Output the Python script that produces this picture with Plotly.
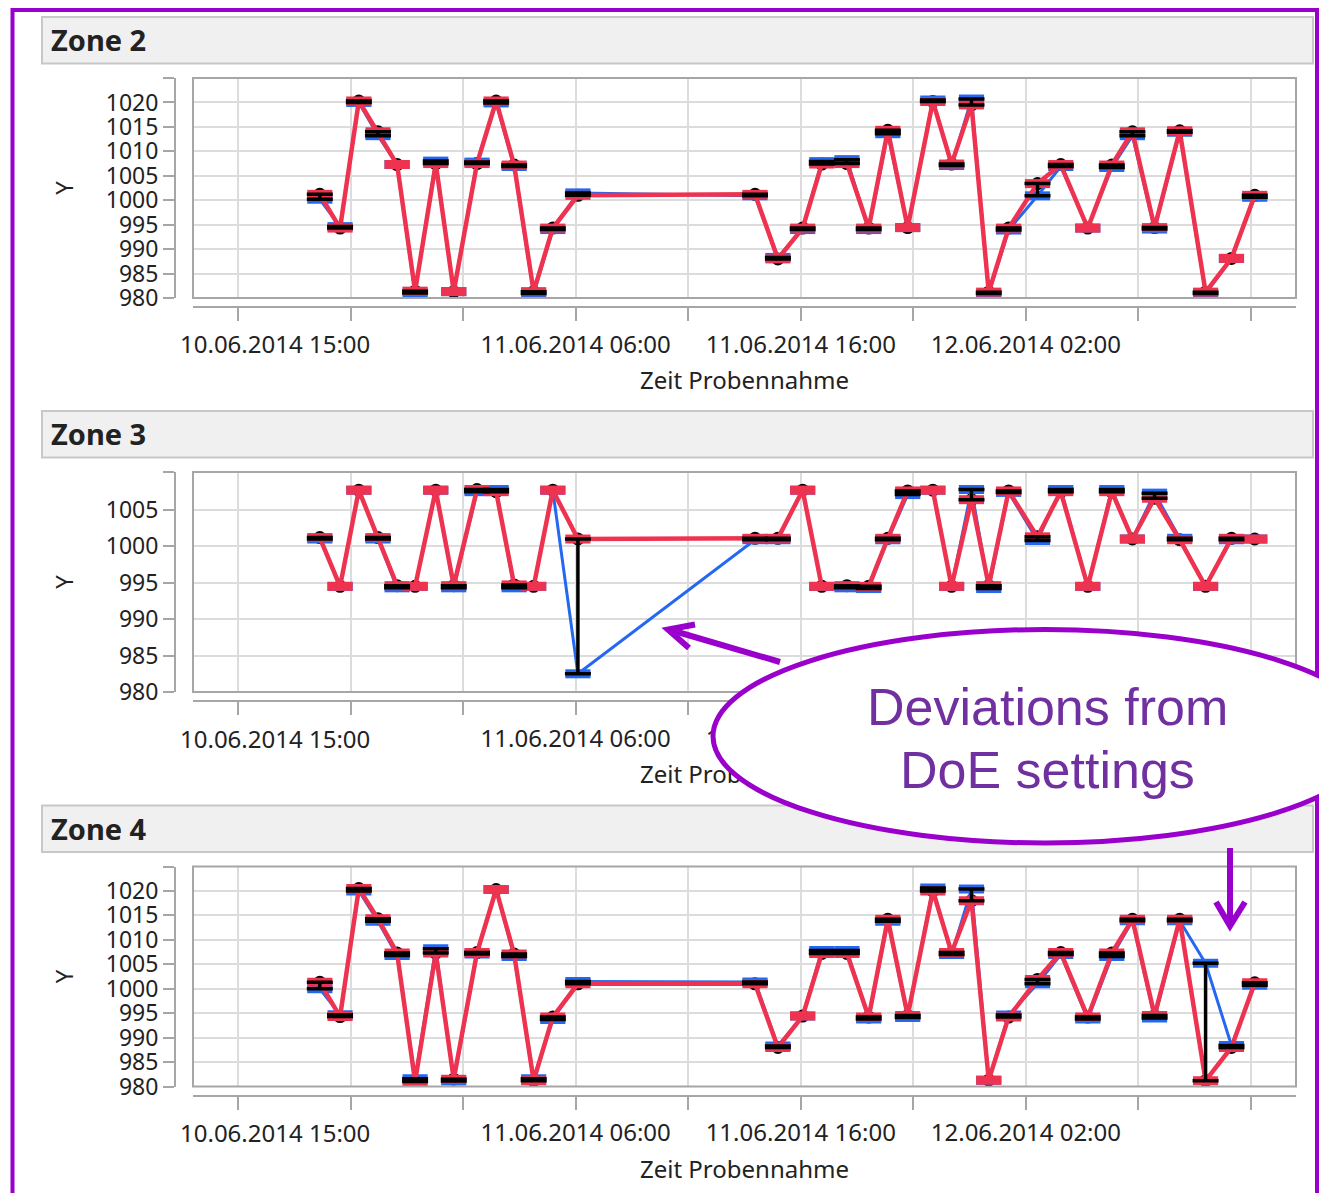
import plotly.graph_objects as go

# ---------------- data ----------------
times = [
    "2014-06-10 18:38", "2014-06-10 19:32", "2014-06-10 20:22", "2014-06-10 21:13",
    "2014-06-10 22:04", "2014-06-10 22:52", "2014-06-10 23:47", "2014-06-11 00:35",
    "2014-06-11 01:37", "2014-06-11 02:28", "2014-06-11 03:16", "2014-06-11 04:08",
    "2014-06-11 04:59", "2014-06-11 06:06", "2014-06-11 13:58", "2014-06-11 14:59",
    "2014-06-11 16:05", "2014-06-11 16:56", "2014-06-11 18:03", "2014-06-11 19:01",
    "2014-06-11 19:52", "2014-06-11 20:45", "2014-06-11 21:52", "2014-06-11 22:42",
    "2014-06-11 23:35", "2014-06-12 00:21", "2014-06-12 01:14", "2014-06-12 02:31",
    "2014-06-12 03:33", "2014-06-12 04:45", "2014-06-12 05:49", "2014-06-12 06:44",
    "2014-06-12 07:43", "2014-06-12 08:50", "2014-06-12 09:59", "2014-06-12 11:08",
    "2014-06-12 12:10",
]

# DoE settings (blue) and actual settings (red) per zone
doe_zone2 = [1000.2, 994.6, 1020.0, 1013.2, 1007.3, 981.0, 1008.0, 981.3, 1007.8, 1019.9,
             1006.9, 980.9, 994.0, 1001.5, 1000.9, 988.3, 994.0, 1007.9, 1008.3, 994.0,
             1013.6, 994.4, 1020.5, 1007.1, 1020.7, 980.9, 993.9, 1000.9, 1006.9, 994.3,
             1006.7, 1013.2, 994.1, 1013.9, 980.9, 988.1, 1000.6]
act_zone2 = [1001.2, 994.3, 1020.3, 1014.0, 1007.3, 981.4, 1007.5, 981.3, 1007.5, 1020.3,
             1007.2, 981.3, 994.3, 1001.0, 1001.2, 988.0, 994.3, 1007.4, 1007.5, 994.3,
             1014.3, 994.4, 1020.2, 1007.4, 1019.5, 981.2, 994.3, 1003.4, 1007.3, 994.3,
             1007.2, 1014.0, 994.4, 1014.2, 981.2, 988.1, 1001.0]

doe_zone3 = [1001.0, 994.5, 1007.7, 1001.0, 994.3, 994.5, 1007.7, 994.3, 1007.5, 1007.8,
             994.3, 994.5, 1007.7, 982.5, 1000.9, 1000.9, 1007.7, 994.5, 994.3, 994.2,
             1000.9, 1007.1, 1007.7, 994.5, 1007.8, 994.2, 1007.4, 1000.8, 1007.8, 994.5,
             1007.8, 1001.0, 1007.3, 1001.1, 994.5, 1000.9, 1001.0]
act_zone3 = [1001.2, 994.5, 1007.7, 1001.2, 994.6, 994.5, 1007.7, 994.6, 1007.8, 1007.5,
             994.7, 994.5, 1007.7, 1001.0, 1001.1, 1001.1, 1007.7, 994.5, 994.6, 994.5,
             1001.1, 1007.6, 1007.7, 994.5, 1006.4, 994.6, 1007.6, 1001.3, 1007.5, 994.5,
             1007.5, 1001.0, 1006.6, 1000.9, 994.5, 1001.1, 1001.0]

doe_zone4 = [1000.0, 994.7, 1020.0, 1013.8, 1006.8, 981.6, 1008.2, 981.1, 1007.1, 1020.3,
             1006.6, 981.6, 993.7, 1001.5, 1001.4, 988.3, 994.4, 1007.8, 1007.8, 993.8,
             1013.8, 994.1, 1020.6, 1007.0, 1020.4, 981.3, 994.6, 1001.0, 1007.0, 993.8,
             1006.6, 1013.9, 994.0, 1013.9, 1005.2, 988.4, 1000.7]
act_zone4 = [1001.3, 994.3, 1020.5, 1014.3, 1007.3, 981.0, 1007.3, 981.5, 1007.4, 1020.3,
             1007.1, 981.2, 994.2, 1001.0, 1001.0, 988.0, 994.4, 1007.2, 1007.2, 994.2,
             1014.2, 994.5, 1020.0, 1007.4, 1018.0, 981.3, 994.2, 1001.9, 1007.4, 994.2,
             1007.3, 1014.2, 994.5, 1014.2, 981.2, 988.0, 1001.2]

zone_names = ["Zone 2", "Zone 3", "Zone 4"]

x_ticks = ["2014-06-10 15:00", "2014-06-10 20:00", "2014-06-11 01:00", "2014-06-11 06:00",
           "2014-06-11 11:00", "2014-06-11 16:00", "2014-06-11 21:00", "2014-06-12 02:00",
           "2014-06-12 07:00", "2014-06-12 12:00"]
x_tick_text = ["", "", "", "11.06.2014 06:00", "", "11.06.2014 16:00", "",
               "12.06.2014 02:00", "", ""]
first_tick_label = "10.06.2014 15:00"
x_range = ["2014-06-10 13:00", "2014-06-12 14:00"]
x_title = "Zeit Probennahme"
x_title_pos = "2014-06-11 13:30"

y_ticks_wide = [980, 985, 990, 995, 1000, 1005, 1010, 1015, 1020, 1025]
y_text_wide = ["980", "985", "990", "995", "1000", "1005", "1010", "1015", "1020", ""]
y_ticks_narrow = [980, 985, 990, 995, 1000, 1005, 1010.2]
y_text_narrow = ["980", "985", "990", "995", "1000", "1005", ""]
y_ranges = [[980, 1025], [980, 1010.2], [980, 1025]]

annotation_lines = ["Deviations from", "DoE settings"]

# ---------------- styling ----------------
# the page body has an 8px margin on every side; keep the figure inside the window
OX, OY = 8, 8
W, H = 1327 - 2 * OX, 1201 - 2 * OY
def px(x):
    return (x - OX) / W
def py(y):
    return 1 - (y - OY) / H

BLUE = "#2468F2"
RED = "#EE3350"
AXIS = "#A6A6A6"
GRID = "#DCDCDC"
TXT = "#222222"
PURPLE = "#9A00CC"
PURPLE_TXT = "#7030A0"
FONT = "Noto Sans"

zones = [
    (doe_zone2, act_zone2, y_ticks_wide, y_text_wide),
    (doe_zone3, act_zone3, y_ticks_narrow, y_text_narrow),
    (doe_zone4, act_zone4, y_ticks_wide, y_text_wide),
]
offsets = [0, 394, 788.5]

fig = go.Figure()
layout = dict(
    width=W, height=H, margin=dict(l=0, r=0, t=0, b=0, autoexpand=False),
    paper_bgcolor="white", plot_bgcolor="white", showlegend=False,
    font=dict(family=FONT, size=24, color=TXT),
)
shapes = []
annotations = []

for i, (doe, act, yt, ytt) in enumerate(zones):
    off = offsets[i]
    sfx = "" if i == 0 else str(i + 1)
    xa, ya = "x" + sfx, "y" + sfx
    xt = "x" + str(i + 4)

    # black measurement points
    fig.add_trace(go.Scatter(x=times, y=act, xaxis=xa, yaxis=ya, mode="markers",
                             marker=dict(symbol="circle", size=13, color="black"),
                             hoverinfo="skip"))
    # DoE settings
    fig.add_trace(go.Scatter(x=times, y=doe, xaxis=xa, yaxis=ya, mode="lines+markers",
                             line=dict(color=BLUE, width=3),
                             marker=dict(symbol="line-ew", size=18,
                                         line=dict(color=BLUE, width=9)),
                             hoverinfo="skip"))
    # actual settings
    fig.add_trace(go.Scatter(x=times, y=act, xaxis=xa, yaxis=ya, mode="lines+markers",
                             line=dict(color=RED, width=4.5),
                             marker=dict(symbol="line-ew", size=18,
                                         line=dict(color=RED, width=9)),
                             hoverinfo="skip"))
    # range bars between DoE and actual
    lo = [min(b, r) if b != r else None for b, r in zip(doe, act)]
    span = [abs(b - r) if b != r else None for b, r in zip(doe, act)]
    fig.add_trace(go.Scatter(x=times, y=lo, xaxis=xa, yaxis=ya, mode="markers",
                             marker=dict(size=1, color="rgba(0,0,0,0)"),
                             error_y=dict(type="data", symmetric=False, array=span,
                                          arrayminus=[0] * len(span), color="black",
                                          thickness=3.5, width=13),
                             hoverinfo="skip"))
    # empty trace to bind the title axis
    fig.add_trace(go.Scatter(x=[], y=[], xaxis=xt, yaxis=ya, hoverinfo="skip"))

    layout["xaxis" + sfx] = dict(
        domain=[px(193), px(1296)], anchor="free", position=py(307 + off),
        type="date", range=x_range, tickvals=x_ticks, ticktext=x_tick_text,
        ticks="outside", ticklen=13, tickwidth=2, tickcolor=AXIS, ticklabelstandoff=3,
        showline=True, linecolor=AXIS, linewidth=2, automargin=False,
        showgrid=True, gridcolor=GRID, gridwidth=2, zeroline=False,
        tickfont=dict(family=FONT, size=24, color=TXT), fixedrange=True,
    )
    layout["xaxis" + str(i + 4)] = dict(
        overlaying=xa, anchor="free", position=py(364 + off),
        type="date", range=x_range, tickvals=[x_title_pos], ticktext=[x_title],
        ticks="", showline=False, showgrid=False, zeroline=False, automargin=False,
        tickfont=dict(family=FONT, size=24, color=TXT), fixedrange=True,
    )
    layout["yaxis" + sfx] = dict(
        domain=[py(298 + off), py(78 + off)], anchor="free", position=px(175),
        range=y_ranges[i], tickvals=yt, ticktext=ytt,
        ticks="outside", ticklen=11, tickwidth=2, tickcolor=AXIS,
        showline=True, linecolor=AXIS, linewidth=2, automargin=False,
        showgrid=True, gridcolor=GRID, gridwidth=2, zeroline=False,
        tickfont=dict(family=FONT, size=23, color=TXT), fixedrange=True,
        title=dict(text="Y", standoff=24, font=dict(family=FONT, size=24, color=TXT)),
    )

    # header bar
    shapes.append(dict(type="rect", xref="paper", yref="paper",
                       x0=px(42), x1=px(1313), y0=py(63.5 + off), y1=py(17 + off),
                       fillcolor="#F0F0F0", line=dict(color="#C8C8C8", width=2),
                       layer="below"))
    annotations.append(dict(text="<b>" + zone_names[i] + "</b>", xref="paper", yref="paper",
                            x=px(49), y=py(40 + off), xanchor="left", yanchor="middle",
                            showarrow=False,
                            font=dict(family=FONT, size=29, color=TXT)))
    # plot frame
    shapes.append(dict(type="rect", xref=xa + " domain", yref=ya + " domain",
                       x0=0, x1=1, y0=0, y1=1, line=dict(color=AXIS, width=2),
                       layer="above"))
    # first tick label (shifted right as in original)
    annotations.append(dict(text=first_tick_label, xref=xa, yref="paper",
                            x=x_ticks[0], y=py(344 + off), xanchor="center",
                            yanchor="middle", xshift=37, showarrow=False,
                            font=dict(family=FONT, size=24, color=TXT)))

# outer purple frame (bottom edge lies below the window)
shapes.append(dict(type="path", xref="paper", yref="paper",
                   path=(f"M{px(12.5)},{py(1193)} L{px(12.5)},{py(10)} "
                         f"L{px(1317)},{py(10)} L{px(1317)},{py(1193)}"),
                   line=dict(color=PURPLE, width=4), layer="above"))
# callout ellipse
shapes.append(dict(type="circle", xref="paper", yref="paper",
                   x0=px(713), x1=px(1377), y0=py(843), y1=py(629.5),
                   fillcolor="white", line=dict(color=PURPLE, width=5), layer="above"))
# arrow towards zone 3 deviation
shapes.append(dict(type="path", xref="paper", yref="paper",
                   path=f"M{px(780)},{py(662)} L{px(669)},{py(629.5)}",
                   line=dict(color=PURPLE, width=6), layer="above"))
shapes.append(dict(type="path", xref="paper", yref="paper",
                   path=f"M{px(695)},{py(624.5)} L{px(668)},{py(629.5)} L{px(689)},{py(648)}",
                   line=dict(color=PURPLE, width=6), layer="above"))
# arrow towards zone 4 deviation
shapes.append(dict(type="path", xref="paper", yref="paper",
                   path=f"M{px(1230)},{py(848)} L{px(1230)},{py(925)}",
                   line=dict(color=PURPLE, width=6), layer="above"))
shapes.append(dict(type="path", xref="paper", yref="paper",
                   path=f"M{px(1216)},{py(902)} L{px(1230)},{py(926)} L{px(1245)},{py(902)}",
                   line=dict(color=PURPLE, width=6), layer="above"))

for j, line_txt in enumerate(annotation_lines):
    annotations.append(dict(text=line_txt, xref="paper", yref="paper",
                            x=px(1047), y=py(707 + 63 * j), xanchor="center",
                            yanchor="middle", showarrow=False,
                            font=dict(family="Liberation Sans", size=52, color=PURPLE_TXT)))

layout["shapes"] = shapes
layout["annotations"] = annotations
fig.update_layout(**layout)

fig.write_html("out.html")
